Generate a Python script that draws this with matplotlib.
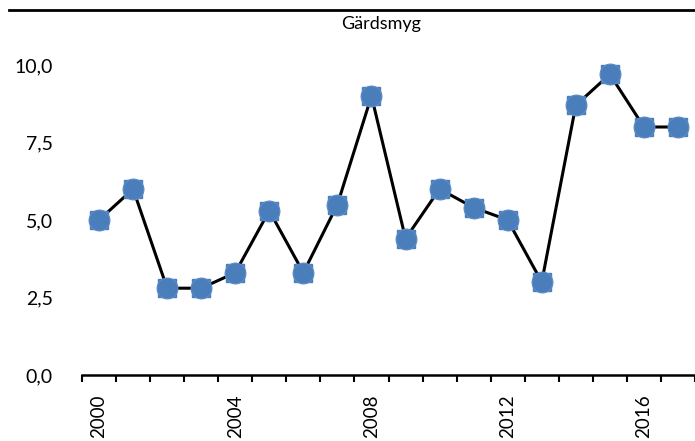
import numpy as np
import matplotlib.pyplot as plt
from matplotlib.lines import Line2D

years = list(range(2000, 2018))
values = [5.0, 6.0, 2.8, 2.8, 3.3, 5.3, 3.3, 5.5, 9.0, 4.4, 6.0, 5.4, 5.0, 3.0, 8.7, 9.7, 8.0, 8.0]
title = "Gärdsmyg"
yticks = [0, 2.5, 5, 7.5, 10]
ytick_labels = ["0,0", "2,5", "5,0", "7,5", "10,0"]

plt.rcParams['font.family'] = ['Lato', 'DejaVu Sans']

fig = plt.figure(figsize=(6.95, 4.41), dpi=100)
ax = fig.add_axes([82 / 695, 1 - 375 / 441, 1 - 82 / 695, (375 - 65) / 441])

x = np.arange(len(years))
ax.plot(x, values, color="black", lw=2.2, clip_on=False, zorder=2)
ax.plot(x, values, ls="none", marker="s", ms=13.5, mfc="#4a7ebb", mec="#4a7ebb",
        clip_on=False, zorder=3)
ax.plot(x, values, ls="none", marker="o", ms=15, mfc="#4a7ebb", mec="#5b8cc8", mew=0.8,
        clip_on=False, zorder=4)

ax.set_xlim(-0.5, 17.35)
ax.set_ylim(0, 10)

# category boundaries as tick marks, year labels in between
ax.set_xticks(np.arange(-0.5, len(years), 1.0))
ax.set_xticklabels([])
ax.tick_params(axis="x", which="major", length=5, width=1.5, direction="out", color="black")
lab_pos = [i for i, y in enumerate(years) if y % 4 == 0]
ax.set_xticks(lab_pos, minor=True)
ax.set_xticklabels([str(years[i]) for i in lab_pos], minor=True, rotation=90, fontsize=13.5,
                   va="top", ha="center")
ax.tick_params(axis="x", which="minor", length=0, pad=14)

ax.set_yticks(yticks)
ax.set_yticklabels(ytick_labels, fontsize=14)
ax.tick_params(axis="y", length=0, pad=21)

for s in ["top", "right", "left"]:
    ax.spines[s].set_visible(False)
ax.spines["bottom"].set_linewidth(1.8)

fig.text(381 / 695, 1 - 24 / 441, title, ha="center", va="center", fontsize=13)
fig.add_artist(Line2D([9 / 695, 1], [1 - 10 / 441, 1 - 10 / 441], color="black", lw=2,
                      transform=fig.transFigure))

fig.savefig("out.png", dpi=100)
